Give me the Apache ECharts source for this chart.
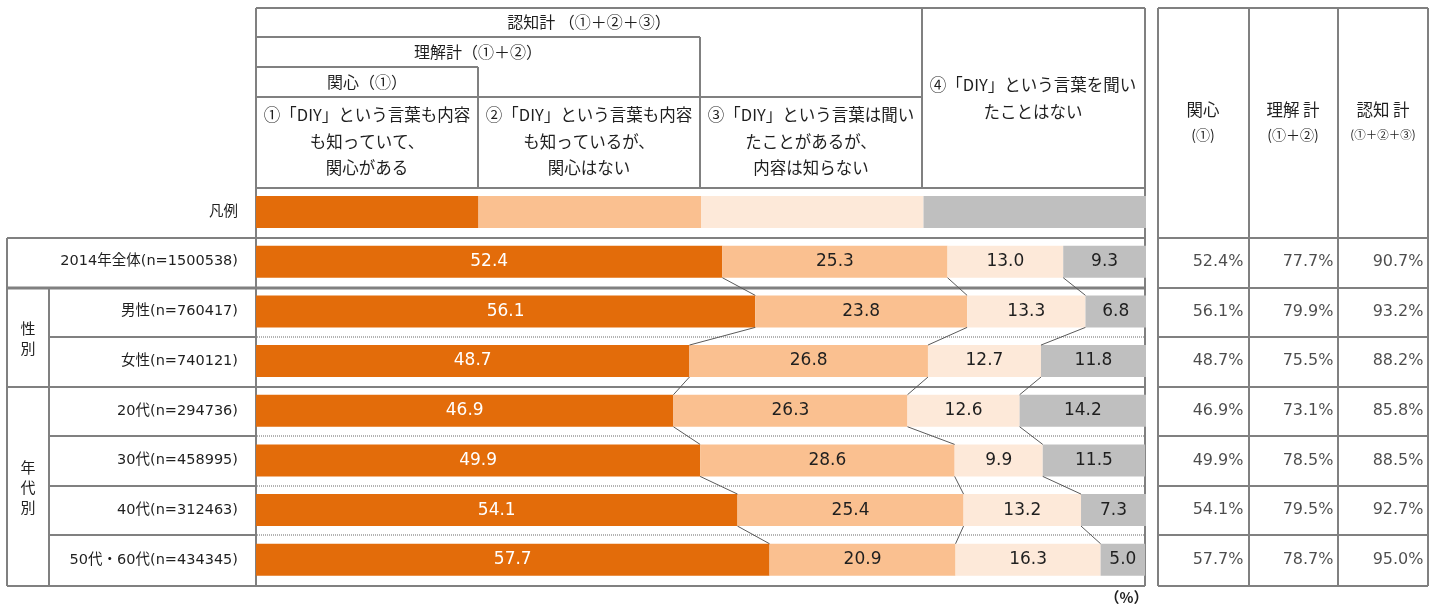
<!DOCTYPE html>
<html><head><meta charset="utf-8">
<script src="https://cdn.jsdelivr.net/npm/echarts@6/dist/echarts.min.js"></script>
<style>html,body{margin:0;padding:0;background:#fff}#c{width:1437px;height:606px}</style>
</head><body><div id="c"></div>
<script>
// ---- data ----
const rowLabels = ['凡例','2014年全体(n=1500538)','男性(n=760417)','女性(n=740121)','20代(n=294736)','30代(n=458995)','40代(n=312463)','50代・60代(n=434345)'];
const legendKey = [25, 25, 25, 25]; // legend swatch row
const s1 = [52.4, 56.1, 48.7, 46.9, 49.9, 54.1, 57.7];
const s2 = [25.3, 23.8, 26.8, 26.3, 28.6, 25.4, 20.9];
const s3 = [13.0, 13.3, 12.7, 12.6, 9.9, 13.2, 16.3];
const s4 = [9.3, 6.8, 11.8, 14.2, 11.5, 7.3, 5.0];
const seriesNames = ['①関心がある','②関心はない','③内容は知らない','④聞いたことはない'];
const tableCols = ['関心','理解計','認知計'];
const interest = [52.4, 56.1, 48.7, 46.9, 49.9, 54.1, 57.7];
const understand = [77.7, 79.9, 75.5, 73.1, 78.5, 79.5, 78.7];
const awareness = [90.7, 93.2, 88.2, 85.8, 88.5, 92.7, 95.0];
const headerTexts = {
  total: '認知計 （①＋②＋③）',
  understand: '理解計（①＋②）',
  interest: '関心（①）',
  c1: ['①「DIY」という言葉も内容','も知っていて、','関心がある'],
  c2: ['②「DIY」という言葉も内容','も知っているが、','関心はない'],
  c3: ['③「DIY」という言葉は聞い','たことがあるが、','内容は知らない'],
  c4: ['④「DIY」という言葉を聞い','たことはない']
};
const groupLabels = ['性\n別', '年\n代\n別'];
const unitLabel = '（%）';

// ---- styles ----
const colors = ['#E36C0A', '#FAC090', '#FDE9D9', '#BFBFBF'];
const JP = '"Noto Sans CJK JP"';
const MIX = '"DejaVu Sans", "Noto Sans CJK JP"';
const TXT = '#1f1f1f';
const LINE = '#808080';

const chart = echarts.init(document.getElementById('c'), null, {renderer: 'canvas'});

const seriesData = [s1, s2, s3, s4];
const bars = seriesData.map((arr, si) => ({
  type: 'bar', name: seriesNames[si], stack: 'all', barWidth: 32,
  xAxisIndex: 0, yAxisIndex: 0,
  itemStyle: {color: colors[si]},
  label: {
    show: true, position: 'inside',
    color: si === 0 ? '#ffffff' : TXT,
    fontSize: 17, fontFamily: MIX,
    formatter: p => p.value.toFixed(1)
  },
  data: [{value: legendKey[si], label: {show: false}}].concat(arr)
}));

// connector lines between cumulative boundaries of consecutive rows
const cum = s1.map((v, i) => [s1[i], s1[i] + s2[i], s1[i] + s2[i] + s3[i]]);
const connData = [];
for (let i = 0; i < s1.length - 1; i++)
  for (let k = 0; k < 3; k++) connData.push([cum[i][k], i + 1, cum[i + 1][k], i + 2]);

const connectors = {
  type: 'custom', xAxisIndex: 0, yAxisIndex: 0, z: 5,
  encode: {x: [0, 2], y: [1, 3]},
  data: connData,
  renderItem: (params, api) => {
    const a = api.coord([api.value(0), api.value(1)]);
    const b = api.coord([api.value(2), api.value(3)]);
    return {type: 'line', shape: {x1: a[0], y1: a[1] + 16, x2: b[0], y2: b[1] - 16},
      style: {stroke: '#5a5a5a', lineWidth: 1}};
  }
};

// right table values
const tableData = [];
[interest, understand, awareness].forEach((arr, c) => arr.forEach((v, r) => tableData.push([c, r + 1, v])));
const table = {
  type: 'scatter', xAxisIndex: 1, yAxisIndex: 1, symbol: 'rect', symbolSize: 1,
  itemStyle: {color: 'rgba(0,0,0,0)'}, silent: true,
  label: {show: true, position: [41, 0.5], align: 'right', verticalAlign: 'middle',
    color: TXT, fontSize: 16, fontFamily: MIX, formatter: p => p.value[2].toFixed(1) + '%'},
  data: tableData
};

// ---- graphic: table lines & header texts ----
const g = [];
function L(x1, y1, x2, y2, w, dash, color) {
  g.push({type: 'line', silent: true, z: 0, shape: {x1, y1, x2, y2},
    style: {stroke: color || LINE, lineWidth: w || 2, lineDash: dash || null}});
}
function T(x, y, text, size, align, font, lh, weight) {
  g.push({type: 'text', silent: true, z: 10, x, y,
    style: {text, fill: TXT, font: (weight || 'normal') + ' ' + size + 'px ' + (font || JP), align: align || 'center', verticalAlign: 'middle', lineHeight: lh || size * 1.3}});
}
// header box
L(256, 8, 1145, 8); L(256, 37, 700, 37); L(256, 67, 478, 67); L(256, 97, 922, 97); L(256, 188, 1145, 188);
L(478, 67, 478, 188); L(700, 37, 700, 188); L(922, 8, 922, 188);
L(256, 8, 256, 586); L(1145, 8, 1145, 586);
// body rows
L(7, 238, 1145, 238); L(7, 288, 1145, 288, 3); L(7, 387, 1145, 387); L(7, 586, 1145, 586);
[337, 436, 486, 535].forEach(y => { L(49, y, 256, y); L(257, y, 1145, y, 1.5, [1, 1], '#9a9a9a'); });
L(7, 238, 7, 586); L(49, 288, 49, 586);
// right table
L(1158, 8, 1428, 8); L(1158, 8, 1158, 586); L(1428, 8, 1428, 586); L(1249, 8, 1249, 586); L(1338, 8, 1338, 586);
[238, 288, 337, 387, 436, 486, 535, 586].forEach(y => L(1158, y, 1428, y));

// header texts
const HF = 16.5;
T(589, 22, headerTexts.total, 16);
T(478, 52, headerTexts.understand, 16);
T(367, 82, headerTexts.interest, 16);
[[367, headerTexts.c1], [589, headerTexts.c2], [811, headerTexts.c3]].forEach(([x, lines]) =>
  lines.forEach((t, i) => T(x, 115 + i * 26.5, t, HF)));
headerTexts.c4.forEach((t, i) => T(1033, 85 + i * 26.5, t, HF));
T(1203, 110, '関心', 16.5); T(1203, 135, '(①)', 14);
T(1293, 110, '理解 計', 16.5); T(1293, 135, '(①＋②)', 14);
T(1383, 110, '認知 計', 16.5); T(1383, 135, '(①＋②＋③)', 11.5);
T(28, 338, groupLabels[0], 15, 'center', JP, 20);
T(28, 487, groupLabels[1], 15, 'center', JP, 20);
T(1148, 597, unitLabel, 14.5, 'right', JP, null, 'bold');

chart.setOption({
  animation: false,
  backgroundColor: '#ffffff',
  grid: [
    {left: 256, width: 890, top: 187.2, height: 397.4},
    {left: 1158, width: 270, top: 187.2, height: 397.4}
  ],
  xAxis: [
    {type: 'value', gridIndex: 0, min: 0, max: 100, show: false},
    {type: 'category', gridIndex: 1, data: tableCols, show: false}
  ],
  yAxis: [
    {type: 'category', gridIndex: 0, inverse: true, data: rowLabels,
      axisLine: {show: false}, axisTick: {show: false}, splitLine: {show: false},
      axisLabel: {show: true, margin: 18, color: TXT, fontSize: 14.5, fontFamily: MIX, align: 'right'}},
    {type: 'category', gridIndex: 1, inverse: true, data: rowLabels, show: false}
  ],
  graphic: g,
  series: bars.concat([connectors, table])
});
</script>
</body></html>
